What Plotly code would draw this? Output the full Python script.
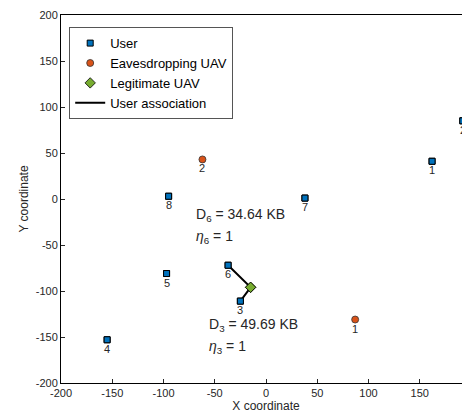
import plotly.graph_objects as go

# users
user_x = [162, 192, -25, -155, -97, -37, 38, -95]
user_y = [41, 85, -111, -153, -81, -72, 1, 3]
user_ids = ["1", "2", "3", "4", "5", "6", "7", "8"]

# eavesdropping UAVs
eve_x = [87, -62]
eve_y = [-131, 43]
eve_ids = ["1", "2"]

# legitimate UAV
uav_x = [-15]
uav_y = [-96]

# association: user 6 -> UAV -> user 3
assoc_x = [-37, -15, -25]
assoc_y = [-72, -96, -111]

ticks = [-200, -150, -100, -50, 0, 50, 100, 150, 200]
tick_text = [str(t) for t in ticks]

# annotation text
notes = [
    (-70, -17, "D<sub>6</sub> = 34.64 KB"),
    (-70, -41, "<i>η</i><sub>6</sub> = 1"),
    (-58, -137, "D<sub>3</sub> = 49.69 KB"),
    (-58, -161, "<i>η</i><sub>3</sub> = 1"),
]

FONT = "Liberation Sans, Arial, sans-serif"

fig = go.Figure()
fig.add_trace(go.Scatter(
    x=user_x, y=user_y, mode="markers", name="User",
    marker=dict(symbol="square", size=6, color="#0072BD",
                line=dict(color="black", width=1)),
))
fig.add_trace(go.Scatter(
    x=eve_x, y=eve_y, mode="markers", name="Eavesdropping UAV",
    marker=dict(symbol="circle", size=7, color="#D95319",
                line=dict(color="#333333", width=0.8)),
))
fig.add_trace(go.Scatter(
    x=uav_x, y=uav_y, mode="markers", name="Legitimate UAV",
    marker=dict(symbol="diamond", size=8, color="#77AC30",
                line=dict(color="black", width=0.8)),
))
fig.add_trace(go.Scatter(
    x=assoc_x, y=assoc_y, mode="lines", name="User association",
    line=dict(color="black", width=2),
))
# re-draw markers on top of lines
fig.add_trace(go.Scatter(
    x=user_x, y=user_y, mode="markers", showlegend=False, hoverinfo="skip",
    marker=dict(symbol="square", size=6, color="#0072BD",
                line=dict(color="black", width=1)),
))
fig.add_trace(go.Scatter(
    x=uav_x, y=uav_y, mode="markers", showlegend=False, hoverinfo="skip",
    marker=dict(symbol="diamond", size=8, color="#77AC30",
                line=dict(color="black", width=0.8)),
))

# point labels
for px, py, lab in zip(user_x + eve_x, user_y + eve_y, user_ids + eve_ids):
    fig.add_annotation(x=px, y=py, text=lab, showarrow=False,
                       xanchor="center", yanchor="top", yshift=-1,
                       font=dict(size=11, color="#262626", family=FONT))

for nx, ny, txt in notes:
    fig.add_annotation(x=nx, y=ny, text=txt, showarrow=False,
                       xanchor="left", yanchor="middle",
                       font=dict(size=14, color="#262626", family=FONT))

axis_common = dict(
    showgrid=False, zeroline=False, showline=True, linecolor="black",
    linewidth=1, mirror=True, ticks="inside", ticklen=4, tickcolor="#262626",
    tickvals=ticks, ticktext=tick_text, automargin=False,
    tickfont=dict(size=11, color="#262626", family=FONT),
)
fig.update_xaxes(range=[-200, 200],
                 title=dict(text="X coordinate", standoff=2,
                            font=dict(size=12, color="#262626", family=FONT)),
                 **axis_common)
fig.update_yaxes(range=[-200, 200],
                 title=dict(text="Y coordinate", standoff=4,
                            font=dict(size=12, color="#262626", family=FONT)),
                 **axis_common)

# grey right-hand frame edge as in the source figure
fig.add_shape(type="line", xref="paper", yref="paper", x0=1, x1=1, y0=0, y1=1,
              line=dict(color="#808080", width=2))

fig.update_layout(
    width=470, height=413,
    margin=dict(l=53, r=7, t=7, b=38, autoexpand=False),
    plot_bgcolor="white", paper_bgcolor="white",
    font=dict(family=FONT, color="#262626"),
    legend=dict(x=0.02, y=0.967, xanchor="left", yanchor="top",
                bordercolor="#555555", borderwidth=1, bgcolor="white",
                font=dict(size=13, family=FONT, color="black"),
                tracegroupgap=0, itemwidth=30),
    showlegend=True,
)

fig.write_html("out.html")
